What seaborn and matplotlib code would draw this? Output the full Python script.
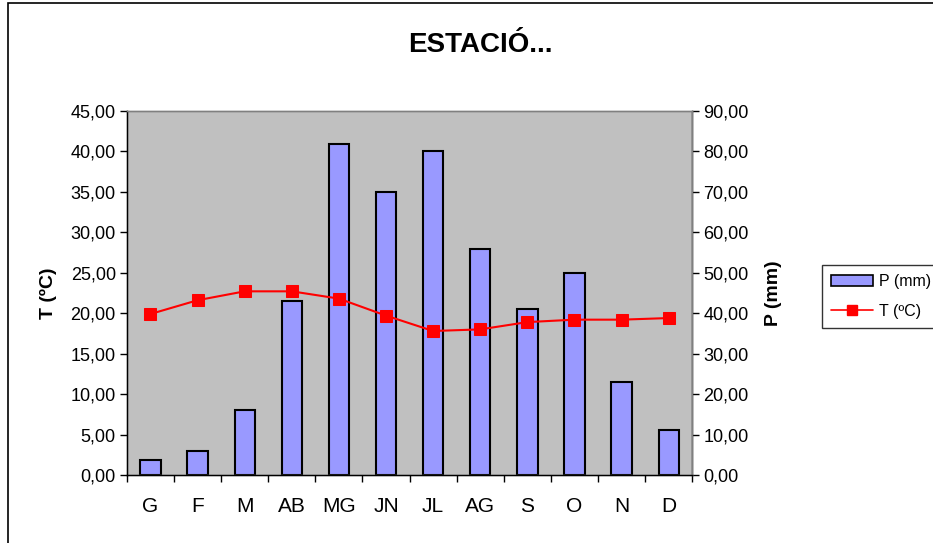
import numpy as np
import pandas as pd
import seaborn as sns
import matplotlib.pyplot as plt
from matplotlib.ticker import FuncFormatter, MultipleLocator, FixedLocator
from matplotlib.patches import Rectangle, Patch
from matplotlib.lines import Line2D

# dades del climograma
mesos = ["G", "F", "M", "AB", "MG", "JN", "JL", "AG", "S", "O", "N", "D"]
precipitacio = [3.8, 6.0, 16.2, 43.0, 81.9, 69.9, 80.1, 55.8, 41.0, 49.9, 23.0, 11.1]
temperatura = [19.9, 21.6, 22.7, 22.7, 21.8, 19.7, 17.8, 18.0, 18.9, 19.2, 19.2, 19.4]

df = pd.DataFrame({"mes": mesos, "P": precipitacio, "T": temperatura})

sns.set_theme(style="white")
plt.rcParams['font.family'] = ['Liberation Sans', 'DejaVu Sans']
plt.rcParams.update({"text.color": "black", "axes.labelcolor": "black",
                     "xtick.color": "black", "ytick.color": "black"})

fig = plt.figure(figsize=(9.33, 5.43), dpi=100)
ax = fig.add_axes([0.136, 0.125, 0.606, 0.671])  # eix esquerre: T
ax2 = ax.twinx()  # eix dret: P

# barres de precipitacio a l'eix dret
ax2.patch.set_visible(True)
ax2.patch.set_facecolor("#C0C0C0")
sns.barplot(data=df, x="mes", y="P", ax=ax2, color="#9999FF", edgecolor="black",
            linewidth=1.5, width=0.43, saturation=1)
ax2.set_ylim(0, 90)
ax2.set_ylabel("P (mm)", fontsize=14, fontweight="bold", labelpad=12)

# linia de temperatura a l'eix esquerre, per sobre de les barres
ax.set_zorder(ax2.get_zorder() + 1)
ax.patch.set_visible(False)
sns.lineplot(x=np.arange(len(mesos)), y=df["T"], ax=ax, color="#FF0000", marker="s",
             markersize=8, markeredgecolor="#FF0000", linewidth=1.5)
ax.set_ylim(0, 45)
ax.set_xlim(-0.5, len(mesos) - 0.5)
ax2.set_xlim(-0.5, len(mesos) - 0.5)
ax.set_ylabel("T (ºC)", fontsize=14, fontweight="bold", labelpad=10)
ax.set_xlabel("")
ax2.set_xlabel("")

coma = FuncFormatter(lambda v, p: f"{v:.2f}".replace(".", ","))
ax.yaxis.set_major_locator(MultipleLocator(5))
ax2.yaxis.set_major_locator(MultipleLocator(10))
ax.yaxis.set_major_formatter(coma)
ax2.yaxis.set_major_formatter(coma)

# etiquetes del mes al centre, marques entre categories
ax.xaxis.set_major_locator(FixedLocator(np.arange(len(mesos))))
ax.set_xticklabels(mesos)
ax.xaxis.set_minor_locator(FixedLocator(np.arange(-0.5, len(mesos), 1)))
ax.tick_params(axis="x", which="major", length=0, labelsize=15, pad=16)
ax.tick_params(axis="x", which="minor", length=5, width=1, color="black", direction="out", bottom=True)
ax2.tick_params(axis="x", which="both", length=0, labelbottom=False)
ax.tick_params(axis="y", length=5, width=1, color="black", direction="out", left=True, labelsize=13, pad=3)
ax2.tick_params(axis="y", length=5, width=1, color="black", direction="out", right=True, labelsize=13, pad=3)

for a in (ax, ax2):
    for s in a.spines.values():
        s.set_color("#808080")
        s.set_linewidth(1)
ax.spines["left"].set_color("black")
ax.spines["bottom"].set_color("black")
ax2.spines["right"].set_color("black")

fig.text(0.515, 0.917, "ESTACIÓ...", ha="center", va="center", fontsize=20, fontweight="bold")

# llegenda fora del grafic
handles = [Patch(facecolor="#9999FF", edgecolor="black", linewidth=1.2),
           Line2D([0], [0], color="#FF0000", marker="s", markersize=7, linewidth=1.2)]
leg = fig.legend(handles, ["P (mm)", "T (ºC)"], loc="upper left", bbox_to_anchor=(0.872, 0.527),
                 fontsize=11.5, frameon=True, fancybox=False, edgecolor="black",
                 handlelength=2.6, borderpad=0.6, labelspacing=0.9, handletextpad=0.4)
leg.get_frame().set_linewidth(1)

# vora exterior del grafic
fig.patches.append(Rectangle((8 / 933, -0.05), 1.1, 1.05 - 3 / 543, transform=fig.transFigure,
                             fill=False, edgecolor="black", linewidth=1.2))

fig.savefig("out.png", dpi=100)
